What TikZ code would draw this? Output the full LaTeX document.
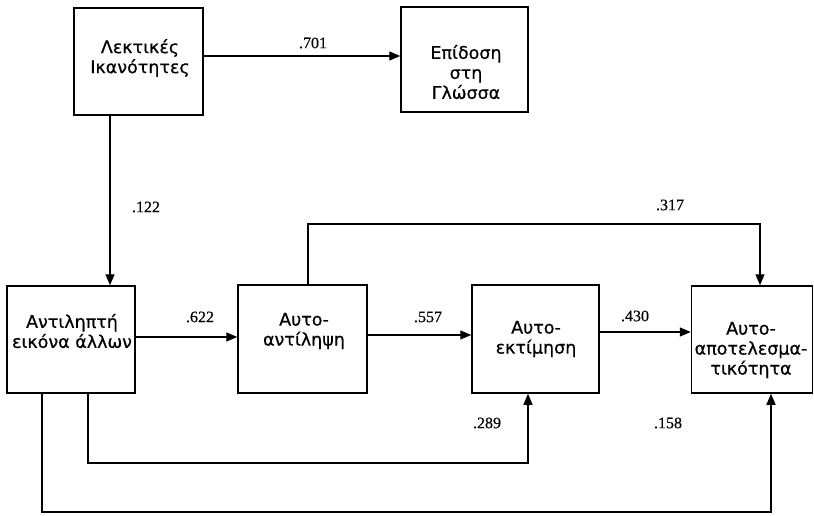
\documentclass[tikz,border=0pt]{standalone}
\usepackage{fontspec}
\setmainfont{Liberation Serif}
\newfontfamily\grfont[FakeBold=0.6]{DejaVu Sans}
\newfontfamily\numfont[FakeBold=0.4]{Liberation Serif}
\usetikzlibrary{arrows.meta}
\begin{document}
\begin{tikzpicture}[x=1pt,y=1pt,
  box/.style={draw, line width=1.5pt, inner sep=0pt},
  txt/.style={align=center, inner sep=0pt, font=\grfont\fontsize{17.5}{20}\selectfont},
  lab/.style={inner sep=0pt, font=\numfont\fontsize{16}{18}\selectfont},
  conn/.style={line width=1.4pt},
  arr/.style={conn, -{Triangle[length=11pt,width=9pt]}}]
\useasboundingbox (0,0) rectangle (814,515);
% boxes
\node[box, minimum width=129pt, minimum height=107pt] (A) at (138.5,453.5) {};
\node[box, minimum width=127pt, minimum height=105pt] (B) at (464.5,455.5) {};
\node[box, minimum width=128pt, minimum height=107pt] (C) at (71,175.5) {};
\node[box, minimum width=129pt, minimum height=108pt] (D) at (302.5,176) {};
\node[box, minimum width=127pt, minimum height=108pt] (E) at (535.5,176) {};
\node[box, minimum width=121pt, minimum height=107pt] (F) at (752,175.5) {};
% texts
\node[txt] (tA) at (140,457) {Λεκτικές\\Ικανότητες};
\node[txt] (tB) at (466,443) {Επίδοση\\στη\\Γλώσσα};
\node[txt] (tC) at (72,184) {Αντιληπτή\\εικόνα άλλων};
\node[txt] (tD) at (304,184) {Αυτο-\\αντίληψη};
\node[txt] (tE) at (536,176) {Αυτο-\\εκτίμηση};
\node[txt] (tF) at (751,165) {Αυτο-\\αποτελεσμα-\\τικότητα};
% helper coordinates
\coordinate (ab) at (300,459);
\coordinate (ac) at (110,300);
\coordinate (cd) at (190,178);
\coordinate (de) at (420,180);
\coordinate (ef) at (640,183);
\coordinate (df1) at (308,291);
\coordinate (df2) at (760,291);
\coordinate (ce1) at (88,52);
\coordinate (ce2) at (528,52);
\coordinate (cf1) at (42,3);
\coordinate (cf2) at (771,3);
% connectors
\draw[arr] (A.east |- ab) -- (B.west |- ab);
\draw[arr] (A.south -| ac) -- (C.north -| ac);
\draw[arr] (C.east |- cd) -- (D.west |- cd);
\draw[arr] (D.east |- de) -- (E.west |- de);
\draw[arr] (E.east |- ef) -- (F.west |- ef);
\draw[arr] (D.north -| df1) -- (df1) -- (df2) -- (F.north -| df2);
\draw[arr] (C.south -| ce1) -- (ce1) -- (ce2) -- (E.south -| ce2);
\draw[arr] (C.south -| cf1) -- (cf1) -- (cf2) -- (F.south -| cf2);
% labels
\node[lab] (l701) at (313,472) {.701};
\node[lab] (l122) at (146,308) {.122};
\node[lab] (l622) at (200,198) {.622};
\node[lab] (l557) at (428,198) {.557};
\node[lab] (l430) at (635,199) {.430};
\node[lab] (l317) at (670,310) {.317};
\node[lab] (l289) at (487,92) {.289};
\node[lab] (l158) at (668,92) {.158};
\end{tikzpicture}
\end{document}
